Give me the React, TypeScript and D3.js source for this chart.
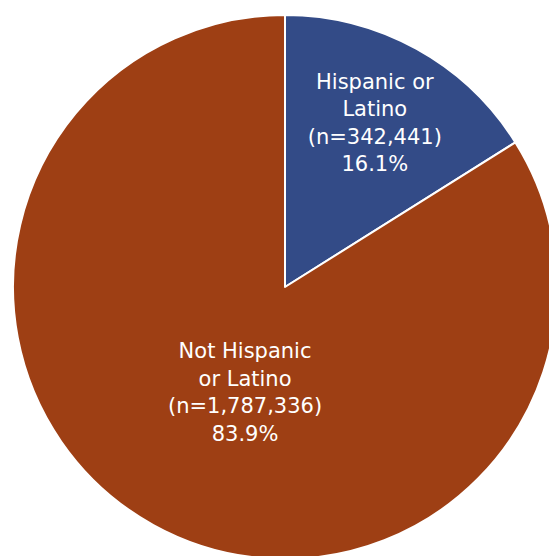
import React from 'react'
import * as d3 from 'd3'

const WIDTH = 549
const HEIGHT = 556
const CX = 285
const CY = 287
const RADIUS = 272

const categories = ['Hispanic or Latino', 'Not Hispanic or Latino']
const counts = [342441, 1787336]
const percents = ['16.1%', '83.9%']
const labelLines = [
  ['Hispanic or', 'Latino', '(n=342,441)', '16.1%'],
  ['Not Hispanic', 'or Latino', '(n=1,787,336)', '83.9%'],
]
const colors = ['#334B87', '#9E3F14']
// where each label sits: fraction of the radius, plus a small nudge
const labelRadius = [0.69, 0.41]
const labelNudge = [[-1, 0], [14, 8]]

export default function App() {
  const pie = d3.pie<number>().sort(null).value((d) => d)
  const arcs = pie(counts)
  const arc = d3.arc<d3.PieArcDatum<number>>().innerRadius(0).outerRadius(RADIUS)
  const fmt = d3.format(',')

  return (
    <svg width={WIDTH} height={HEIGHT} style={{ display: 'block', position: 'absolute', left: 0, top: 0 }}>
      <g transform={`translate(${CX},${CY})`}>
        {arcs.map((a, i) => (
          <path key={categories[i]} d={arc(a) || ''} fill={colors[i]} stroke="#ffffff" strokeWidth={2} strokeLinejoin="round" />
        ))}
        {arcs.map((a, i) => {
          const mid = (a.startAngle + a.endAngle) / 2
          const r = RADIUS * labelRadius[i]
          const x = Math.sin(mid) * r + labelNudge[i][0]
          const y = -Math.cos(mid) * r + labelNudge[i][1]
          const lines = labelLines[i]
          const lh = 27.5
          return (
            <text
              key={'l' + i}
              x={x}
              y={y - ((lines.length - 1) * lh) / 2}
              textAnchor="middle"
              dominantBaseline="central"
              fill="#ffffff"
              fontFamily="'DejaVu Sans', Verdana, sans-serif"
              fontSize={21}
              aria-label={`${categories[i]} (n=${fmt(counts[i])}) ${percents[i]}`}
            >
              {lines.map((t, j) => (
                <tspan key={j} x={x} dy={j === 0 ? 0 : lh}>{t}</tspan>
              ))}
            </text>
          )
        })}
      </g>
    </svg>
  )
}
